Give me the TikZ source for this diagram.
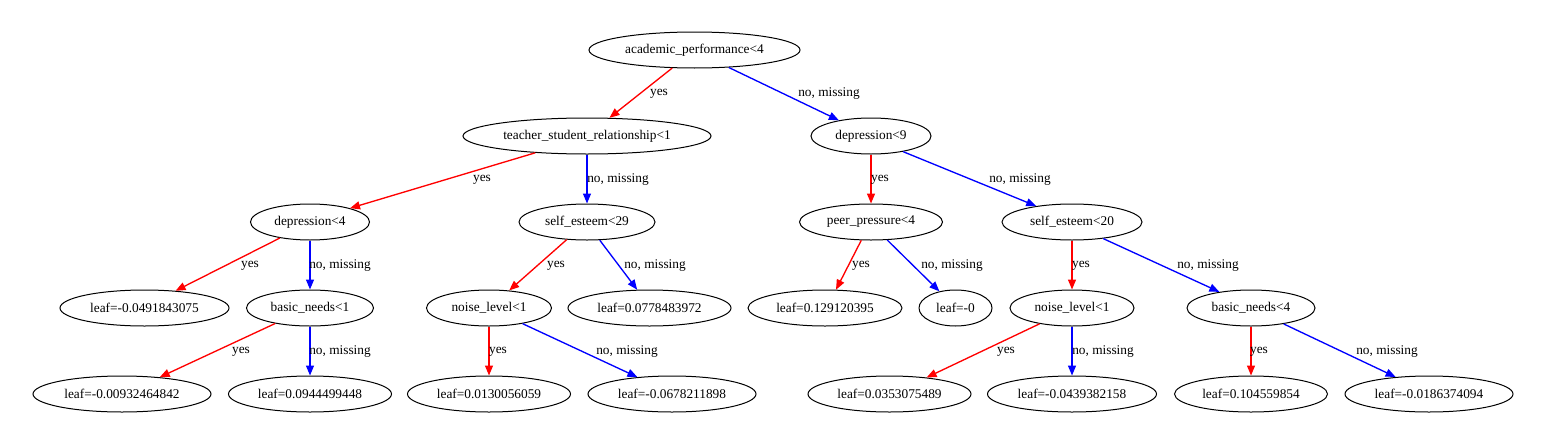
\documentclass[tikz,border=0pt]{standalone}
\usepackage{fontspec}
\setmainfont{Liberation Serif}
\usetikzlibrary{shapes.geometric,arrows.meta}
\begin{document}
\begin{tikzpicture}[x=0.75pt,y=-0.75pt,
  nd/.style={ellipse,draw=black,line width=0.75pt,inner sep=0pt,minimum height=27pt,minimum width=#1*0.75pt,font=\fontsize{10}{12}\selectfont},
  lbl/.style={inner sep=0pt,font=\fontsize{10}{12}\selectfont},
  yesedge/.style={draw=red,line width=1pt,-{Triangle[length=7.5pt,width=6pt]}},
  noedge/.style={draw=blue,line width=1pt,-{Triangle[length=7.5pt,width=6pt]}}]
\useasboundingbox (0,0) rectangle (1548,446);
% level 0
\node[nd=211] (root) at (694.5,50) {academic\_performance<4};
% level 1
\node[nd=248] (tsr) at (587,136) {teacher\_student\_relationship<1};
\node[nd=120] (dep9) at (871,136) {depression<9};
% level 2
\node[nd=119] (dep4) at (310,222) {depression<4};
\node[nd=136] (se29) at (587,222) {self\_esteem<29};
\node[nd=143] (pp) at (871,222) {peer\_pressure<4};
\node[nd=140] (se20) at (1072,222) {self\_esteem<20};
% level 3
\node[nd=169] (l049) at (144.5,308) {leaf=-0.0491843075};
\node[nd=127] (bn1) at (310,308) {basic\_needs<1};
\node[nd=125] (nl1) at (489,308) {noise\_level<1};
\node[nd=163] (l077) at (649.5,308) {leaf=0.0778483972};
\node[nd=154] (l129) at (825,308) {leaf=0.129120395};
\node[nd=73] (l0) at (955.5,308) {leaf=-0};
\node[nd=124] (nl2) at (1072,308) {noise\_level<1};
\node[nd=128] (bn4) at (1251,308) {basic\_needs<4};
% level 4
\node[nd=178] (l009) at (122,394) {leaf=-0.00932464842};
\node[nd=163] (l094) at (310,394) {leaf=0.0944499448};
\node[nd=163] (l013) at (489,394) {leaf=0.0130056059};
\node[nd=168] (l067) at (672,394) {leaf=-0.0678211898};
\node[nd=163] (l035) at (889.5,394) {leaf=0.0353075489};
\node[nd=169] (l043) at (1072,394) {leaf=-0.0439382158};
\node[nd=153] (l104) at (1251,394) {leaf=0.104559854};
\node[nd=168] (l018) at (1429,394) {leaf=-0.0186374094};
% edges
\draw[yesedge] (root.219) -- (tsr.39);
\draw[noedge] (root.333.4) -- (dep9.154);
\draw[yesedge] (tsr.198.8) -- (dep4.19.2);
\draw[noedge] (tsr.270) -- (se29.90);
\draw[yesedge] (dep9.270) -- (pp.90);
\draw[noedge] (dep9.334.8) -- (se20.156.8);
\draw[yesedge] (dep4.208.9) -- (l049.29.4);
\draw[noedge] (dep4.270) -- (bn1.90);
\draw[yesedge] (se29.221.8) -- (nl1.41.3);
\draw[noedge] (se29.305.2) -- (l077.124.8);
\draw[yesedge] (pp.242.2) -- (l129.59);
\draw[noedge] (pp.312.5) -- (l0.134.2);
\draw[yesedge] (se20.270) -- (nl2.90);
\draw[noedge] (se20.332.7) -- (bn4.153.4);
\draw[yesedge] (bn1.204.8) -- (l009.24.7);
\draw[noedge] (bn1.270) -- (l094.90);
\draw[yesedge] (nl1.270) -- (l013.90);
\draw[noedge] (nl1.335.2) -- (l067.154.8);
\draw[yesedge] (nl2.206.6) -- (l035.24.3);
\draw[noedge] (nl2.270) -- (l043.90);
\draw[yesedge] (bn4.270) -- (l104.90);
\draw[noedge] (bn4.334.2) -- (l018.153.4);
% edge labels
\node[lbl] (t1) at (659,94) {yes};
\node[lbl] (t2) at (829,94) {no, missing};
\node[lbl] (t3) at (482,180) {yes};
\node[lbl] (t4) at (618,180) {no, missing};
\node[lbl] (t5) at (880,180) {yes};
\node[lbl] (t6) at (1020,180) {no, missing};
\node[lbl] (t7) at (250,266) {yes};
\node[lbl] (t8) at (340,266) {no, missing};
\node[lbl] (t9) at (556,266) {yes};
\node[lbl] (t10) at (655,266) {no, missing};
\node[lbl] (t11) at (861,266) {yes};
\node[lbl] (t12) at (952,266) {no, missing};
\node[lbl] (t13) at (1081,266) {yes};
\node[lbl] (t14) at (1208,266) {no, missing};
\node[lbl] (t15) at (241,352) {yes};
\node[lbl] (t16) at (340,352) {no, missing};
\node[lbl] (t17) at (498,352) {yes};
\node[lbl] (t18) at (627,352) {no, missing};
\node[lbl] (t19) at (1006,352) {yes};
\node[lbl] (t20) at (1103,352) {no, missing};
\node[lbl] (t21) at (1259,352) {yes};
\node[lbl] (t22) at (1387,352) {no, missing};
\end{tikzpicture}
\end{document}
